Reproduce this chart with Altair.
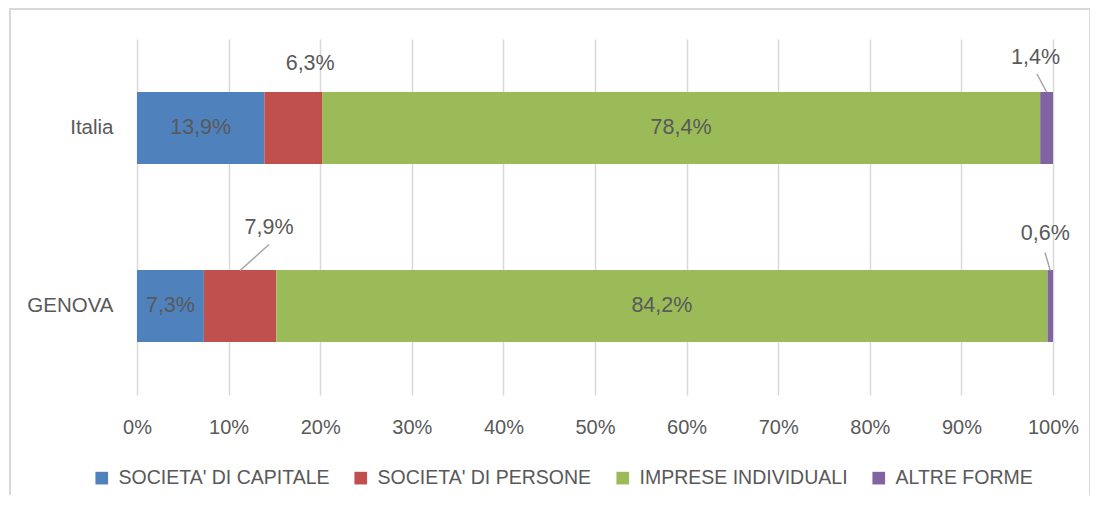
import altair as alt
import pandas as pd

regions = ["Italia", "GENOVA"]
forme = ["SOCIETA' DI CAPITALE", "SOCIETA' DI PERSONE", "IMPRESE INDIVIDUALI", "ALTRE FORME"]
italia = [13.9, 6.3, 78.4, 1.4]
genova = [7.3, 7.9, 84.2, 0.6]
colors = ["#4F81BD", "#C0504D", "#9BBB59", "#8064A2"]
tick_values = [0, 10, 20, 30, 40, 50, 60, 70, 80, 90, 100]

rows = []
for reg, vals in zip(regions, [italia, genova]):
    s = 0.0
    for f, v in zip(forme, vals):
        rows.append(dict(regione=reg, forma=f, valore=v, start=s, end=min(s + v, 100.0),
                         mid=s + v / 2, label=f"{v:.1f}".replace(".", ",") + "%"))
        s += v
df = pd.DataFrame(rows)

# outside labels: (region, forma) -> text dx, dy ; leader: (x2 shift %, yOffset, y2Offset)
outside = {
    ("Italia", forme[1]): ((17, -64), None),
    ("Italia", forme[3]): ((-11, -70), (-1.05, -36, -54)),
    ("GENOVA", forme[1]): ((29, -78), (3.16, -35.5, -61.5)),
    ("GENOVA", forme[3]): ((-5, -72), (-0.57, -35.5, -53.5)),
}

TXT = "#595959"
FONT = "Liberation Sans"

xscale = alt.Scale(domain=[0, 100], nice=False, zero=True)
yscale = alt.Scale(paddingInner=0.596, paddingOuter=0.298)

x_axis = alt.Axis(values=tick_values, labelExpr="datum.value + '%'", title=None,
                  ticks=False, domain=False, grid=True, gridColor="#D9D9D9",
                  gridWidth=1.5, labelPadding=22, labelFontSize=20,
                  labelFlush=False, labelAlign="center",
                  labelColor=TXT, labelFont=FONT)
y_axis = alt.Axis(title=None, ticks=False, domain=False, labelPadding=24, grid=False,
                  labelFontSize=20.5, labelColor=TXT, labelFont=FONT)


def xenc(field):
    return alt.X(field, scale=xscale, axis=x_axis)


def yenc():
    return alt.Y("regione:N", sort=regions, scale=yscale, axis=y_axis)


frame = alt.Chart(df.head(1)).mark_rect(fill=None, stroke="#D9D9D9", strokeWidth=2).encode(
    x=alt.value(-127), x2=alt.value(953), y=alt.value(-30), y2=alt.value(490)
)

bars = alt.Chart(df).mark_bar(stroke=None).encode(
    x=xenc("start:Q"),
    x2="end:Q",
    y=yenc(),
    color=alt.Color("forma:N", scale=alt.Scale(domain=forme, range=colors),
                    legend=alt.Legend(title=None, orient="none", direction="horizontal",
                                      legendX=-45, legendY=429, symbolType="square",
                                      symbolSize=160, symbolStrokeWidth=0, labelOffset=7,
                                      columnPadding=21, labelFontSize=19.5, labelLimit=500,
                                      labelColor=TXT, labelFont=FONT)),
)

in_mask = [(r, f) not in outside for r, f in zip(df.regione, df.forma)]
inside_df = df[in_mask]

inside_labels = alt.Chart(inside_df).mark_text(
    fontSize=21.5, color=TXT, font=FONT, baseline="middle", align="center"
).encode(
    x=xenc("mid:Q"),
    y=yenc(),
    text="label:N",
)

layers = [frame, bars, inside_labels]
for (reg, f), ((dx, dy), lead) in outside.items():
    sub = df[(df.regione == reg) & (df.forma == f)].copy()
    layers.append(
        alt.Chart(sub).mark_text(fontSize=21.5, color=TXT, font=FONT, baseline="middle",
                                 align="center", dx=dx, dy=dy).encode(
            x=xenc("mid:Q"),
            y=yenc(),
            text="label:N",
        )
    )
    if lead is not None:
        shift, yo, y2o = lead
        sub["lead_x2"] = sub["mid"] + shift
        layers.append(
            alt.Chart(sub).mark_rule(color="#A6A6A6", strokeWidth=1.5,
                                     yOffset=yo, y2Offset=y2o).encode(
                x=xenc("mid:Q"),
                x2="lead_x2:Q",
                y=yenc(),
                y2="regione:N",
            )
        )

chart = alt.layer(*layers).properties(
    width=916, height=356,
    padding={"left": 129, "top": 31, "right": 37, "bottom": 100},
    autosize=alt.AutoSizeParams(type="none"),
).configure_view(stroke=None)

chart.save("out.html", embed_options={"renderer": "svg", "actions": False})
